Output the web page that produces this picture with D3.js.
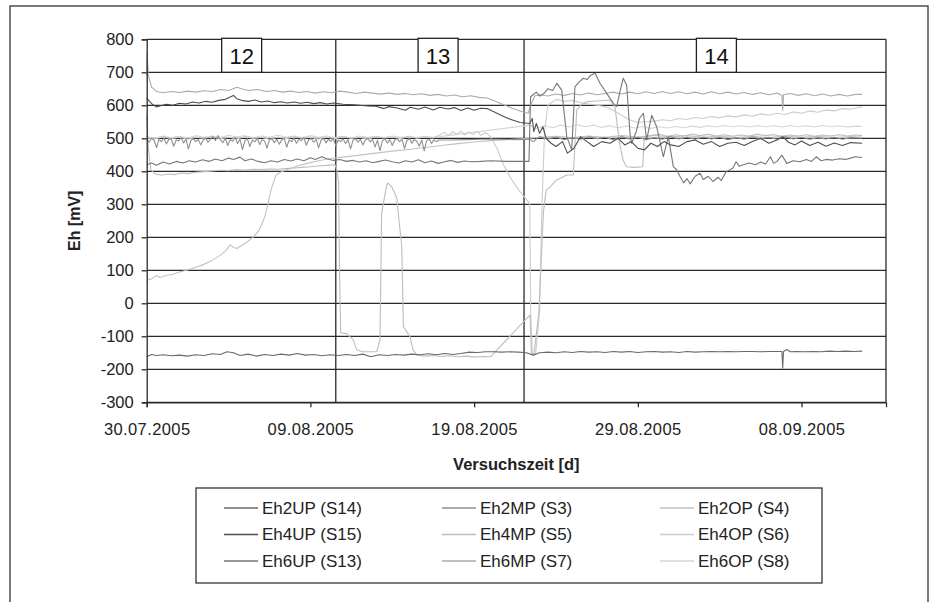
<!DOCTYPE html>
<html>
<head>
<meta charset="utf-8">
<script src="https://cdn.jsdelivr.net/npm/d3@7/dist/d3.min.js"></script>
<style>
  body { margin: 0; background: #fff; }
  svg { display: block; font-family: "Liberation Sans", Arial, sans-serif; }
</style>
</head>
<body>
<div id="chart"></div>
<script>
// ---- data (days after 30.07.2005, Eh in mV) ----
const startDate = "30.07.2005";
const xTickLabels = ["30.07.2005", "09.08.2005", "19.08.2005", "29.08.2005", "08.09.2005"];
const xEndDay = 45.16;
const yTicks = [-300, -200, -100, 0, 100, 200, 300, 400, 500, 600, 700, 800];
const phaseNames = ["12", "13", "14"];
const phaseLabelDays = [5.8, 17.8, 34.8];
const phaseBoundDays = [11.55, 23.05];

const seriesNames = ["Eh2UP (S14)", "Eh2MP (S3)", "Eh2OP (S4)",
                     "Eh4UP (S15)", "Eh4MP (S5)", "Eh4OP (S6)",
                     "Eh6UP (S13)", "Eh6MP (S7)", "Eh6OP (S8)"];

const eh2UP = [[0,-162],[0.3,-155],[0.6,-158],[1,-156],[1.5,-159],[2,-157],[2.5,-160],[3,-156],[3.5,-158],[4,-153],[4.5,-155],[4.9,-147],[5.3,-150],[5.7,-158],[6.2,-154],[6.7,-160],[7.2,-155],[7.7,-158],[8.2,-154],[8.7,-157],[9.2,-152],[9.7,-157],[10.2,-155],[10.7,-159],[11.2,-156],[11.7,-158],[12.2,-155],[12.7,-158],[13.2,-154],[13.7,-162],[14.2,-156],[14.7,-158],[15.2,-155],[15.7,-157],[16.2,-154],[16.7,-156],[17.2,-153],[17.7,-156],[18.2,-152],[18.7,-155],[19.2,-152],[19.7,-148],[20.2,-149],[20.7,-147],[21.2,-147],[21.7,-148],[22.2,-147],[22.7,-148],[23.2,-150],[23.6,-157],[24,-150],[24.5,-148],[25,-150],[25.5,-147],[26,-149],[26.5,-146],[27,-148],[27.5,-147],[28,-149],[28.5,-146],[29,-148],[29.5,-146],[30,-149],[30.5,-147],[31,-146],[31.5,-148],[32,-147],[32.5,-149],[33,-146],[33.5,-148],[34,-147],[34.5,-146],[35,-147],[35.5,-146],[36,-147],[36.5,-146],[37,-146],[37.5,-147],[38,-146],[38.5,-146],[38.8,-146],[38.85,-196],[38.9,-146],[39.1,-140],[39.3,-147],[39.7,-146],[40.2,-147],[40.7,-146],[41.2,-147],[41.7,-145],[42.2,-146],[42.7,-145],[43.2,-146],[43.7,-145]];

const eh2MP = [[0,498],[0.15,488],[0.3,500],[0.45,494],[0.6,472],[0.75,497],[0.9,490],[1.05,501],[1.2,483],[1.35,496],[1.5,499],[1.65,476],[1.8,495],[1.95,492],[2.1,502],[2.25,486],[2.4,497],[2.55,468],[2.7,494],[2.85,499],[3,490],[3.15,497],[3.3,480],[3.45,495],[3.6,501],[3.75,488],[3.9,498],[4.05,505],[4.2,493],[4.35,508],[4.5,496],[4.65,487],[4.8,500],[4.95,478],[5.1,496],[5.25,491],[5.4,503],[5.55,484],[5.7,497],[5.85,466],[6,493],[6.15,499],[6.3,475],[6.45,495],[6.6,489],[6.75,500],[6.9,481],[7.05,496],[7.2,492],[7.35,470],[7.5,496],[7.65,499],[7.8,487],[7.95,497],[8.1,482],[8.25,495],[8.4,500],[8.55,473],[8.7,495],[8.85,490],[9,501],[9.15,485],[9.3,497],[9.45,493],[9.6,502],[9.75,479],[9.9,496],[10.05,499],[10.2,488],[10.35,497],[10.5,471],[10.65,494],[10.8,500],[10.95,486],[11.1,497],[11.25,491],[11.4,499],[11.55,477],[11.7,495],[11.85,490],[12,498],[12.15,484],[12.3,496],[12.45,468],[12.6,494],[12.75,499],[12.9,488],[13.05,497],[13.2,480],[13.35,495],[13.5,500],[13.65,489],[13.8,496],[13.95,474],[14.1,494],[14.25,463],[14.4,493],[14.55,498],[14.7,486],[14.85,496],[15,478],[15.15,495],[15.3,499],[15.45,490],[15.6,497],[15.75,469],[15.9,494],[16.05,499],[16.2,485],[16.35,496],[16.5,491],[16.65,476],[16.8,495],[16.95,462],[17.1,493],[17.25,498],[17.4,484],[17.55,496],[17.7,490],[17.85,495],[18.5,495],[19.5,496],[20.5,497],[21.5,497],[22.5,496],[23.4,497],[23.6,490],[24,505],[24.5,498],[25,504],[25.5,496],[26,502],[26.5,497],[27,505],[27.5,499],[28,503],[28.5,496],[29,505],[29.5,498],[30,503],[30.5,496],[31,502],[31.5,497],[32,505],[32.5,498],[33,503],[33.5,497],[34,504],[34.5,498],[35,503],[35.5,496],[36,502],[36.5,497],[37,504],[37.5,498],[38,503],[38.5,497],[39,505],[39.5,498],[40,503],[40.5,497],[41,502],[41.5,498],[42,503],[42.5,497],[43,502],[43.7,500]];

const eh2OP = [[0,70],[0.3,74],[0.6,84],[0.8,78],[1.2,84],[1.6,88],[2,95],[2.5,101],[3,109],[3.5,118],[4,130],[4.5,146],[4.8,158],[5.1,177],[5.3,170],[5.5,166],[5.9,178],[6.3,192],[6.6,205],[6.9,225],[7.2,260],[7.4,300],[7.6,345],[7.9,389],[8.2,398],[8.55,405],[9.2,416],[9.8,424],[10.5,432],[11.2,439],[12,443],[13,449],[14,455],[15,461],[16,466],[17,472],[18,478],[19,484],[20,489],[21,493],[22,496],[23.4,500],[24,503],[25,506],[26,502],[27,507],[28,503],[29,508],[30,504],[31,509],[32,504],[33,508],[34,503],[35,507],[36,502],[37,506],[38,502],[39,507],[40,503],[41,506],[42,502],[43,505],[43.7,503]];

const eh4UP = [[0,622],[0.3,605],[0.6,595],[0.8,598],[1.2,603],[1.6,600],[2,606],[2.4,604],[2.8,610],[3.2,607],[3.6,612],[4,609],[4.4,615],[4.8,618],[5.1,625],[5.3,630],[5.5,620],[5.8,615],[6.2,612],[6.6,616],[7,610],[7.4,613],[7.8,608],[8.2,611],[8.6,607],[9,610],[9.4,606],[9.8,609],[10.2,605],[10.6,608],[11,604],[11.4,607],[12,603],[12.5,602],[13,600],[13.5,598],[14,597],[14.5,590],[14.8,596],[15.3,592],[15.8,585],[16.1,594],[16.6,588],[17,595],[17.5,586],[17.9,594],[18.4,589],[18.8,593],[19.2,584],[19.6,592],[20,585],[20.4,591],[20.8,590],[21.3,578],[21.8,566],[22.3,556],[22.8,548],[23.4,545],[23.55,560],[23.65,520],[23.8,545],[24,515],[24.2,535],[24.4,500],[24.7,485],[25,475],[25.4,490],[25.7,455],[26.1,470],[26.5,505],[26.9,490],[27.3,475],[27.8,490],[28.3,485],[28.8,500],[29.2,480],[29.6,490],[30,470],[30.4,465],[30.8,485],[31.2,475],[31.6,490],[32,480],[32.5,475],[33,490],[33.5,495],[34,482],[34.5,490],[35,475],[35.5,485],[36,488],[36.5,478],[37,490],[37.5,500],[38,485],[38.5,495],[38.85,505],[39.2,488],[39.6,480],[40,492],[40.5,478],[41,488],[41.5,476],[42,486],[42.5,478],[43,487],[43.7,485]];

const eh4MP = [[0,570],[0.1,470],[0.25,405],[0.5,392],[0.9,388],[1.3,392],[1.7,390],[2.1,395],[2.5,393],[3,397],[3.5,399],[4,401],[4.5,403],[5,402],[5.5,405],[6,404],[6.5,406],[7,405],[7.5,407],[8,406],[8.5,408],[9,410],[9.5,412],[10,414],[10.5,416],[11,418],[11.5,420],[11.62,404],[11.72,370],[11.78,100],[11.85,-90],[12.22,-92],[12.62,-111],[12.83,-141],[13.2,-147],[13.64,-147],[14.05,-147],[14.25,-111],[14.35,273],[14.66,358],[14.75,364],[14.97,353],[15.27,320],[15.58,172],[15.68,-71],[16.08,-101],[16.27,-141],[16.5,-157],[17,-160],[17.5,-158],[18,-161],[18.5,-159],[19,-162],[19.5,-160],[20,-163],[20.5,-161],[21,-162],[23.42,-35],[23.5,-152],[23.65,-157],[23.95,-30],[24.23,273],[24.4,343],[24.64,353],[25,372],[25.66,389],[26.06,389],[26.27,586],[26.5,600],[26.88,611],[27.5,613],[28.3,616],[28.6,596],[28.9,480],[29.1,434],[29.3,414],[29.8,412],[30.3,414],[30.4,505],[30.8,508],[31.3,512],[31.8,506],[32.3,511],[32.8,507],[33.3,513],[33.8,508],[34.3,512],[34.8,507],[35.3,511],[35.8,506],[36.3,510],[36.8,507],[37.3,512],[37.8,508],[38.3,511],[38.8,506],[39.3,510],[39.8,507],[40.3,511],[40.8,506],[41.3,510],[41.8,507],[42.3,511],[42.8,507],[43.3,510],[43.7,508]];

const eh4OP = [[0,502],[0.5,498],[1,505],[1.5,499],[2,504],[2.5,497],[3,503],[3.5,500],[4,506],[4.5,499],[5,504],[5.5,498],[6,505],[6.5,500],[7,503],[7.5,497],[8,504],[8.5,499],[9,505],[9.5,500],[10,503],[10.5,498],[11,504],[11.5,499],[12,505],[12.5,500],[13,503],[13.5,498],[14,505],[14.5,501],[15,504],[15.5,499],[16,506],[16.5,500],[17,504],[17.5,501],[17.9,510],[18.2,518],[18.4,508],[18.7,520],[18.9,512],[19.2,522],[19.4,510],[19.7,519],[19.9,511],[20.2,521],[20.4,509],[20.7,517],[21,505],[21.4,470],[21.8,420],[22.2,382],[22.6,352],[23,326],[23.4,303],[23.46,-35],[23.55,-150],[23.75,-156],[24,-25],[24.15,300],[24.3,520],[24.5,600],[25,618],[25.5,612],[26,615],[26.5,608],[27,604],[27.5,600],[28,596],[28.5,585],[29,570],[29.5,556],[30,548],[30.5,550],[31,552],[31.5,556],[32,553],[32.5,560],[33,557],[33.5,563],[34,560],[34.5,566],[35,562],[35.5,568],[36,565],[36.5,571],[37,567],[37.5,574],[38,570],[38.5,576],[39,572],[39.5,580],[40,576],[40.5,583],[41,579],[41.5,586],[42,583],[42.5,590],[43,588],[43.7,596]];

const eh6UP = [[0,420],[0.3,425],[0.6,418],[1,428],[1.4,422],[1.8,430],[2.2,425],[2.6,432],[3,428],[3.4,435],[3.8,430],[4.2,437],[4.6,432],[5,440],[5.3,436],[5.7,443],[6,432],[6.4,437],[6.8,430],[7.2,426],[7.6,432],[8,428],[8.4,436],[8.8,431],[9.2,437],[9.6,432],[10,441],[10.3,436],[10.7,444],[11,438],[11.4,433],[11.8,436],[12.2,430],[12.6,433],[13,428],[13.4,432],[13.8,426],[14.2,430],[14.6,434],[15,429],[15.4,425],[15.8,432],[16.2,428],[16.6,435],[17,426],[17.4,431],[17.8,424],[18.2,429],[18.6,433],[19,427],[19.4,431],[19.8,429],[20.4,430],[21,432],[22,430],[23,430],[23.35,430],[23.45,626],[23.6,632],[23.8,640],[24,628],[24.23,634],[24.5,650],[24.8,645],[25.05,667],[25.35,646],[25.66,505],[25.96,465],[26.16,656],[26.4,670],[26.67,682],[26.9,678],[27.1,690],[27.39,697],[27.69,667],[28.1,636],[28.5,606],[28.71,596],[28.9,640],[29.11,682],[29.32,661],[29.52,516],[29.62,485],[29.9,520],[30.1,560],[30.34,576],[30.54,495],[30.85,570],[31.15,535],[31.56,444],[31.86,505],[32.17,414],[32.38,404],[32.58,384],[32.8,365],[33,378],[33.2,362],[33.5,385],[33.8,394],[34,375],[34.3,385],[34.6,369],[34.9,382],[35.1,372],[35.4,399],[35.8,409],[36,429],[36.2,415],[36.4,419],[36.8,425],[37.2,420],[37.5,428],[37.8,422],[38.1,444],[38.3,424],[38.5,430],[38.8,449],[39.1,424],[39.5,432],[39.9,429],[40.3,436],[40.6,430],[40.9,444],[41.2,432],[41.5,436],[41.9,434],[42.3,438],[42.7,436],[43,440],[43.3,444],[43.7,442]];

const eh6MP = [[0,690],[0.02,758],[0.1,690],[0.3,655],[0.6,642],[1,638],[1.5,642],[2,639],[2.5,643],[3,640],[3.5,644],[4,642],[4.5,648],[5,645],[5.5,655],[5.8,650],[6.2,645],[6.8,648],[7.3,642],[7.8,645],[8.3,640],[8.8,643],[9.3,639],[9.8,642],[10.3,637],[10.8,641],[11.3,638],[11.8,643],[12.3,640],[12.8,636],[13.3,640],[13.8,637],[14.3,634],[14.8,637],[15.3,633],[15.8,636],[16.3,632],[16.8,635],[17.3,630],[17.8,633],[18.3,628],[18.8,631],[19.3,626],[19.8,629],[20.3,624],[20.8,622],[21.3,612],[21.8,602],[22.3,592],[22.8,583],[23.3,576],[23.5,605],[23.7,628],[24,632],[24.5,628],[25,634],[25.5,630],[26,636],[26.5,631],[27,637],[27.5,632],[28,636],[28.5,640],[29,634],[29.5,640],[30,635],[30.5,641],[31,636],[31.5,642],[32,636],[32.5,641],[33,635],[33.5,640],[34,634],[34.5,641],[35,635],[35.5,640],[36,634],[36.5,639],[37,633],[37.5,638],[38,632],[38.5,637],[38.8,630],[38.85,585],[38.9,632],[39.3,636],[39.8,630],[40.3,635],[40.8,629],[41.3,634],[41.8,628],[42.3,633],[42.8,628],[43.3,633],[43.7,633]];

const eh6OP = [[0,505],[0.5,500],[1,507],[1.5,502],[2,506],[2.5,501],[3,508],[3.5,503],[4,507],[4.5,502],[5,509],[5.5,504],[6,508],[6.5,502],[7,507],[7.5,503],[8,509],[8.5,504],[9,507],[9.5,502],[10,508],[10.5,503],[11,507],[11.5,502],[12,506],[12.5,501],[13,507],[13.5,503],[14,506],[14.5,502],[15,507],[15.5,503],[16,506],[16.5,502],[17,506],[17.5,503],[17.9,505],[23.4,540],[23.8,530],[24.3,538],[24.8,532],[25.3,540],[25.8,534],[26.3,541],[26.8,535],[27.3,540],[27.8,533],[28.3,538],[28.8,532],[29.3,537],[29.8,531],[30.3,536],[30.8,530],[31.3,535],[31.8,531],[32.3,536],[32.8,532],[33.3,537],[33.8,533],[34.3,538],[34.8,534],[35.3,539],[35.8,535],[36.3,538],[36.8,534],[37.3,539],[37.8,535],[38.3,538],[38.8,534],[39.3,539],[39.8,535],[40.3,538],[40.8,534],[41.3,539],[41.8,535],[42.3,538],[42.8,534],[43.3,537],[43.7,536]];

const seriesValues = [eh2UP, eh2MP, eh2OP, eh4UP, eh4MP, eh4OP, eh6UP, eh6MP, eh6OP];

// ---- styles ----
const seriesColors = ["#6a6a6a", "#8f8f8f", "#c2c2c2", "#4e4e4e", "#bdbdbd", "#cccccc", "#777777", "#ababab", "#d6d6d6"];
const drawOrder = [8, 5, 2, 4, 7, 1, 6, 0, 3];

const W = 933, H = 602;
const plot = {left: 146.7, right: 886, top: 39.3, bottom: 402.3};

const parseDay = d3.utcParse("%d.%m.%Y");
const fmtDay = d3.utcFormat("%d.%m.%Y");
const t0 = parseDay(startDate);
const dayToDate = d => new Date(t0.getTime() + d * 864e5);

const x = d3.scaleUtc()
    .domain([t0, dayToDate(xEndDay)])
    .range([plot.left, plot.right]);
const y = d3.scaleLinear()
    .domain([-300, 800])
    .range([plot.bottom, plot.top]);

const svg = d3.select("#chart").append("svg")
    .attr("width", W)
    .attr("height", H);

svg.append("rect")
    .attr("width", W).attr("height", H)
    .attr("fill", "#fff");

// outer chart frame (bottom edge runs out of the picture)
svg.append("rect")
    .attr("x", 10).attr("y", 6)
    .attr("width", 918).attr("height", 640)
    .attr("fill", "none")
    .attr("stroke", "#333")
    .attr("stroke-width", 1.3);

// horizontal gridlines
svg.append("g")
    .selectAll("line")
    .data(yTicks)
    .enter()
    .append("line")
    .attr("x1", plot.left).attr("x2", plot.right)
    .attr("y1", d => y(d)).attr("y2", d => y(d))
    .attr("stroke", "#2a2a2a")
    .attr("stroke-width", 1.3);

// phase dividers
svg.append("g")
    .selectAll("line")
    .data(phaseBoundDays)
    .enter()
    .append("line")
    .attr("x1", d => x(dayToDate(d))).attr("x2", d => x(dayToDate(d)))
    .attr("y1", plot.top).attr("y2", plot.bottom)
    .attr("stroke", "#2a2a2a")
    .attr("stroke-width", 1.3);

// right frame of plot area
svg.append("line")
    .attr("x1", plot.right).attr("x2", plot.right)
    .attr("y1", plot.top).attr("y2", plot.bottom)
    .attr("stroke", "#2a2a2a")
    .attr("stroke-width", 1.3);

// series
const line = d3.line()
    .x(d => x(dayToDate(d[0])))
    .y(d => y(d[1]));

svg.append("g")
    .selectAll("path")
    .data(drawOrder)
    .enter()
    .append("path")
    .attr("d", i => line(seriesValues[i]))
    .attr("fill", "none")
    .attr("stroke", i => seriesColors[i])
    .attr("stroke-width", 1.1)
    .attr("stroke-linejoin", "round");

// axes
const yAxis = d3.axisLeft(y)
    .tickValues(yTicks)
    .tickSize(5)
    .tickPadding(8)
    .tickFormat(d => String(d));
const gy = svg.append("g")
    .attr("transform", `translate(${plot.left},0)`)
    .call(yAxis);

const xAxis = d3.axisBottom(x)
    .tickValues(xTickLabels.map(parseDay))
    .tickSize(5)
    .tickPadding(16)
    .tickFormat(fmtDay);
const gx = svg.append("g")
    .attr("transform", `translate(0,${plot.bottom})`)
    .call(xAxis);

[gx, gy].forEach(g => {
    g.select(".domain").attr("stroke", "#2a2a2a").attr("stroke-width", 1.3);
    g.selectAll(".tick line").attr("stroke", "#2a2a2a").attr("stroke-width", 1.3);
    g.selectAll(".tick text")
        .attr("fill", "#222")
        .style("font-size", "16.5px");
});
gx.selectAll(".tick text").style("letter-spacing", "0.4px");

// phase labels
const phase = svg.append("g")
    .selectAll("g")
    .data(phaseNames)
    .enter()
    .append("g")
    .attr("transform", (d, i) => `translate(${x(dayToDate(phaseLabelDays[i]))},0)`);
phase.append("rect")
    .attr("x", -20).attr("y", y(800) - 1)
    .attr("width", 40).attr("height", y(700) - y(800) + 1)
    .attr("fill", "#fff")
    .attr("stroke", "#222")
    .attr("stroke-width", 1.3);
phase.append("text")
    .attr("y", (y(800) + y(700)) / 2)
    .attr("dy", "0.36em")
    .attr("text-anchor", "middle")
    .style("font-size", "22px")
    .attr("fill", "#111")
    .text(d => d);

// axis titles
svg.append("text")
    .attr("transform", `translate(74,${(plot.top + plot.bottom) / 2}) rotate(-90)`)
    .attr("text-anchor", "middle")
    .attr("dy", "0.35em")
    .style("font-size", "16px")
    .style("font-weight", "bold")
    .attr("fill", "#222")
    .text("Eh [mV]");

svg.append("text")
    .attr("x", (plot.left + plot.right) / 2)
    .attr("y", 464)
    .attr("text-anchor", "middle")
    .attr("dy", "0.35em")
    .style("font-size", "16.5px")
    .style("font-weight", "bold")
    .attr("fill", "#222")
    .text("Versuchszeit [d]");

// legend
const legend = {left: 196, top: 488, width: 626, height: 95, rowH: 26.5, colW: 218};
svg.append("rect")
    .attr("x", legend.left).attr("y", legend.top)
    .attr("width", legend.width).attr("height", legend.height)
    .attr("fill", "#fff")
    .attr("stroke", "#333")
    .attr("stroke-width", 1.3);

const item = svg.append("g")
    .selectAll("g")
    .data(seriesNames)
    .enter()
    .append("g")
    .attr("transform", (d, i) => `translate(${legend.left + 28 + (i % 3) * legend.colW},${legend.top + 20 + Math.floor(i / 3) * legend.rowH})`);
item.append("line")
    .attr("x1", 0).attr("x2", 34)
    .attr("stroke", (d, i) => seriesColors[i])
    .attr("stroke-width", 1.3);
item.append("text")
    .attr("x", 38)
    .attr("dy", "0.35em")
    .style("font-size", "17px")
    .attr("fill", "#222")
    .text(d => d);
</script>
</body>
</html>
